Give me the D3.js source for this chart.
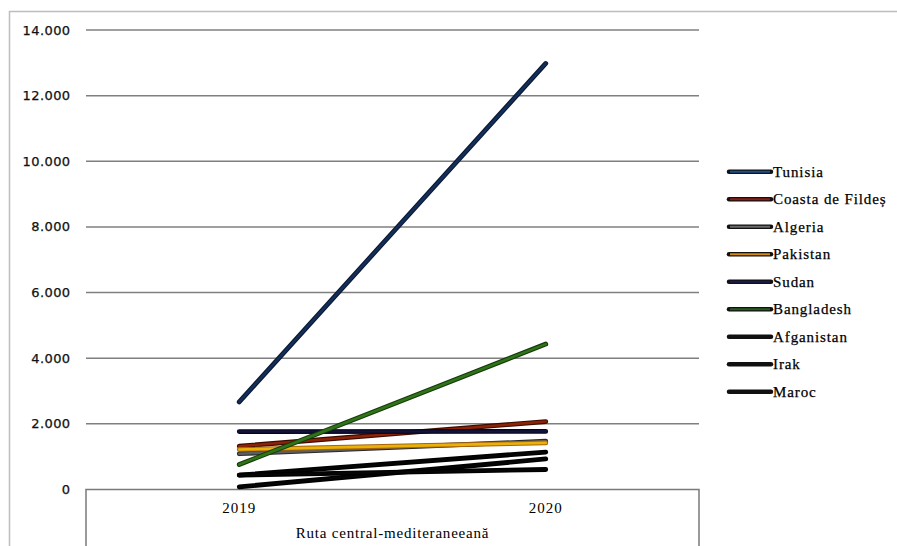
<!DOCTYPE html>
<html>
<head>
<meta charset="utf-8">
<script src="https://cdn.jsdelivr.net/npm/d3@7"></script>
<style>
  html, body { margin: 0; padding: 0; background: #fff; }
  svg { display: block; }
  text.heavy { stroke: #000; stroke-width: 0.25px; paint-order: stroke; }
</style>
</head>
<body>
<svg id="chart" width="897" height="546"></svg>
<script>
// Arrivals by nationality on the central Mediterranean route, 2019 vs 2020
const years = ["2019", "2020"];
const countries = ["Tunisia", "Coasta de Fildeș", "Algeria", "Pakistan", "Sudan",
                   "Bangladesh", "Afganistan", "Irak", "Maroc"];
const values2019 = [2670, 1320, 1090, 1220, 1765, 760, 440, 80, 440];
const values2020 = [12980, 2070, 1470, 1420, 1770, 4430, 1140, 930, 610];
const lineColors = ["#142e5a", "#8c2206", "#5e5e5e", "#e9b10a", "#12123a",
                    "#2f7418", "#050505", "#050505", "#050505"];
const edgeColors = ["#0a1830", "#3a0c00", "#2a2a2a", "#a8640a", "#05051a",
                    "#163a0a", "#000", "#000", "#000"];
const legendSwatch = ["#1c4f8c", "#8a1c10", "#6a6a6a", "#d08a18", "#1a1a50",
                      "#2a5a20", "#111", "#111", "#111"];
const yTicks = [0, 2000, 4000, 6000, 8000, 10000, 12000, 14000];
const routeLabel = "Ruta central-mediteraneeană";

const svg = d3.select("#chart");

// outer frame
svg.append("path")
  .attr("d", "M9.5,546 V11.5 H897")
  .attr("fill", "none").attr("stroke", "#bdbdbd").attr("stroke-width", 1.5);

const plotLeft = 86, plotRight = 699;
const x = d3.scaleBand().domain(years).range([plotLeft, plotRight]);
const y = d3.scaleLinear().domain([0, 14000]).range([489.5, 30]);

// gridlines
svg.append("g").selectAll("line")
  .data(yTicks.filter(t => t > 0))
  .join("line")
  .attr("x1", plotLeft).attr("x2", plotRight)
  .attr("y1", d => y(d)).attr("y2", d => y(d))
  .attr("stroke", "#7f7f7f").attr("stroke-width", 1.5);

// value axis labels
const fmt = d => d === 0 ? "0" : d3.format(",")(d).replace(/,/g, ".");
svg.append("g").selectAll("text")
  .data(yTicks)
  .join("text")
  .attr("class", "heavy")
  .attr("x", 70.5).attr("y", d => y(d))
  .attr("dy", "0.35em")
  .attr("text-anchor", "end")
  .style("font-family", "'DejaVu Sans', Verdana, sans-serif")
  .style("font-size", "13px")
  .style("letter-spacing", "0.4px")
  .attr("fill", "#111")
  .text(fmt);

// category axis box
svg.append("path")
  .attr("d", `M${plotLeft},546 V${y(0)} H${plotRight} V546`)
  .attr("fill", "none").attr("stroke", "#7a7a7a").attr("stroke-width", 1.5);

svg.append("g").selectAll("text")
  .data(years)
  .join("text")
  .attr("x", d => x(d) + x.bandwidth() / 2)
  .attr("y", 513)
  .attr("text-anchor", "middle")
  .style("font-family", "'Liberation Serif', 'Times New Roman', serif")
  .style("font-size", "15px")
  .style("letter-spacing", "1px")
  .attr("fill", "#000")
  .text(d => d);

svg.append("text")
  .attr("x", (plotLeft + plotRight) / 2)
  .attr("y", 538)
  .attr("text-anchor", "middle")
  .style("font-family", "'Liberation Serif', 'Times New Roman', serif")
  .style("font-size", "15px")
  .style("letter-spacing", "0.8px")
  .attr("fill", "#000")
  .text(routeLabel);

// series lines
const series = countries.map((c, i) => ({
  name: c,
  points: [values2019[i], values2020[i]].map((v, j) => ({ year: years[j], value: v })),
  color: lineColors[i],
  edge: edgeColors[i],
  swatch: legendSwatch[i]
}));

const line = d3.line()
  .x(d => x(d.year) + x.bandwidth() / 2)
  .y(d => y(d.value));

const lines = svg.append("g");
series.forEach(s => {
  lines.append("path")
    .attr("d", line(s.points))
    .attr("fill", "none").attr("stroke", s.edge)
    .attr("stroke-width", 4.8).attr("stroke-linecap", "round");
  lines.append("path")
    .attr("d", line(s.points))
    .attr("fill", "none").attr("stroke", s.color)
    .attr("stroke-width", 2.6).attr("stroke-linecap", "round");
});

// legend
const legend = svg.append("g");
series.forEach((s, i) => {
  const ly = 171.7 + i * 27.5;
  legend.append("line")
    .attr("x1", 729).attr("x2", 771).attr("y1", ly).attr("y2", ly)
    .attr("stroke", "#111").attr("stroke-width", 4.5).attr("stroke-linecap", "round");
  legend.append("line")
    .attr("x1", 730).attr("x2", 770).attr("y1", ly).attr("y2", ly)
    .attr("stroke", s.swatch).attr("stroke-width", 2);
  legend.append("text")
    .attr("class", "heavy")
    .attr("x", 773).attr("y", ly).attr("dy", "0.35em")
    .style("font-family", "'Liberation Serif', 'Times New Roman', serif")
    .style("font-size", "15px")
    .style("letter-spacing", "0.9px")
    .attr("fill", "#000")
    .text(s.name);
});
</script>
</body>
</html>
